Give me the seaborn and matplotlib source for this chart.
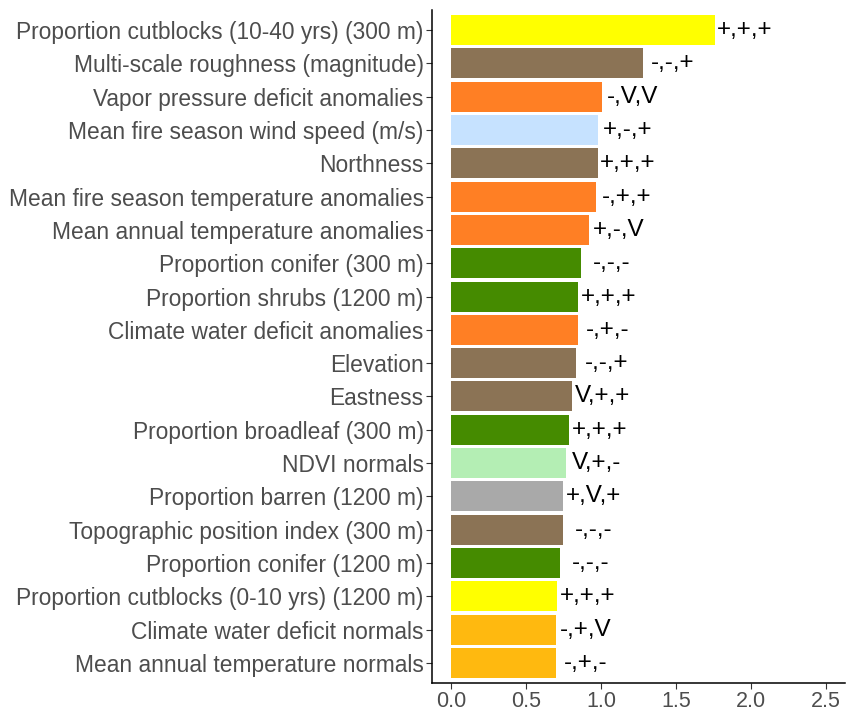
import matplotlib
matplotlib.use("Agg")
import matplotlib.pyplot as plt
import seaborn as sns
import pandas as pd

# variable importance, top to bottom
variables = [
    "Proportion cutblocks (10-40 yrs) (300 m)",
    "Multi-scale roughness (magnitude)",
    "Vapor pressure deficit anomalies",
    "Mean fire season wind speed (m/s)",
    "Northness",
    "Mean fire season temperature anomalies",
    "Mean annual temperature anomalies",
    "Proportion conifer (300 m)",
    "Proportion shrubs (1200 m)",
    "Climate water deficit anomalies",
    "Elevation",
    "Eastness",
    "Proportion broadleaf (300 m)",
    "NDVI normals",
    "Proportion barren (1200 m)",
    "Topographic position index (300 m)",
    "Proportion conifer (1200 m)",
    "Proportion cutblocks (0-10 yrs) (1200 m)",
    "Climate water deficit normals",
    "Mean annual temperature normals",
]
importance = [1.76, 1.28, 1.01, 0.98, 0.98, 0.97, 0.92, 0.87, 0.85, 0.845,
              0.835, 0.81, 0.79, 0.77, 0.75, 0.75, 0.73, 0.71, 0.70, 0.70]
effects = ["+,+,+", "-,-,+", "-,V,V", "+,-,+", "+,+,+", "-,+,+", "+,-,V",
           "-,-,-", "+,+,+", "-,+,-", "-,-,+", "V,+,+", "+,+,+", "V,+,-",
           "+,V,+", "-,-,-", "-,-,-", "+,+,+", "-,+,V", "-,+,-"]
colors = ["#FFFF00", "#8B7355", "#FF7F24", "#C6E2FF", "#8B7355", "#FF7F24",
          "#FF7F24", "#458B00", "#458B00", "#FF7F24", "#8B7355", "#8B7355",
          "#458B00", "#B4EEB4", "#A9A9A9", "#8B7355", "#458B00", "#FFFF00",
          "#FFB90F", "#FFB90F"]

df = pd.DataFrame({"variable": variables, "importance": importance})

sns.set_theme(style="white")
plt.rcParams["font.family"] = ["Liberation Sans", "DejaVu Sans"]

fig = plt.figure(figsize=(8.46, 7.16), dpi=100)
ax = fig.add_axes([432 / 846, 1 - 683 / 716, 413 / 846, 673 / 716])

sns.barplot(data=df, x="importance", y="variable", hue="variable",
            palette=colors, legend=False, width=0.9, linewidth=0,
            saturation=1, ax=ax)

for i, (v, s) in enumerate(zip(importance, effects)):
    ax.text(v + 0.2, i, s, ha="center", va="center", fontsize=17.5, color="black")

ax.set_xlim(-0.125, 2.625)
ax.set_ylim(19.6, -0.6)
ax.set_xticks([0.0, 0.5, 1.0, 1.5, 2.0, 2.5])
ax.set_xticklabels(["0.0", "0.5", "1.0", "1.5", "2.0", "2.5"])
ax.set_xlabel("")
ax.set_ylabel("")
sns.despine(ax=ax)
for side in ["left", "bottom"]:
    ax.spines[side].set_color("black")
    ax.spines[side].set_linewidth(1.1)
ax.tick_params(axis="y", labelsize=16.4)
ax.tick_params(axis="x", labelsize=15.5)
ax.tick_params(axis="both", which="major", length=4, width=0.8, color="#333333",
               labelcolor="#4D4D4D", left=True, bottom=True, pad=2)

fig.savefig("out.png", dpi=100)
